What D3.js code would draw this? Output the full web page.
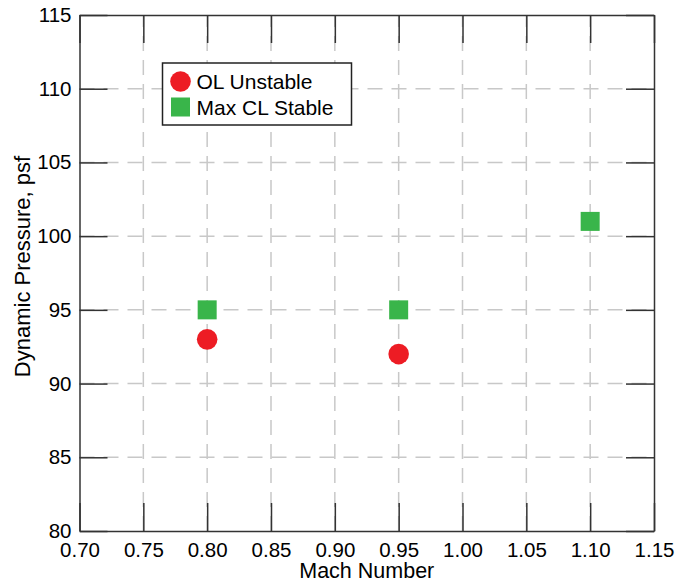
<!DOCTYPE html>
<html>
<head>
<meta charset="utf-8">
<script src="https://cdn.jsdelivr.net/npm/d3@7"></script>
<style>
  body { margin: 0; background: #fff; }
  text { font-family: "Liberation Sans", Arial, sans-serif; fill: #000; }
</style>
</head>
<body>
<svg id="chart" width="677" height="582"></svg>
<script>
//  data
const unstable_mach = [0.80, 0.95];
const unstable_q = [93, 92];
const stable_mach = [0.80, 0.95, 1.10];
const stable_q = [95, 95, 101];
const x_ticks = [0.70, 0.75, 0.80, 0.85, 0.90, 0.95, 1.00, 1.05, 1.10, 1.15];
const y_ticks = [80, 85, 90, 95, 100, 105, 110, 115];
const legend_labels = ["OL Unstable", "Max CL Stable"];

const margin = ({top: 15, right: 23, bottom: 51, left: 79.5});
const w = 677, h = 582;
const svg = d3.select("#chart");

const x = d3.scaleLinear().domain([0.70, 1.15]).range([margin.left, w - margin.right]);
const y = d3.scaleLinear().domain([80, 115]).range([h - margin.bottom, margin.top]);

//  grid
const grid = svg.append("g")
  .attr("stroke", "#c8c8c8")
  .attr("stroke-width", 1.5)
  .attr("stroke-dasharray", "15,9");

grid.selectAll(".gx").data(x_ticks.slice(1, -1)).join("line")
  .attr("x1", d => x(d)).attr("x2", d => x(d))
  .attr("y1", y(80)).attr("y2", y(115));

grid.selectAll(".gy").data(y_ticks.slice(1, -1)).join("line")
  .attr("y1", d => y(d)).attr("y2", d => y(d))
  .attr("x1", x(0.70)).attr("x2", x(1.15));

//  axes with inward ticks
const tick_len = 28;
const xAxis = g => g
  .attr("transform", `translate(0,${h - margin.bottom})`)
  .call(d3.axisBottom(x).tickValues(x_ticks).tickFormat(d3.format(".2f")).tickSizeInner(-tick_len).tickSizeOuter(0).tickPadding(11));

const yAxis = g => g
  .attr("transform", `translate(${margin.left},0)`)
  .call(d3.axisLeft(y).tickValues(y_ticks).tickSizeInner(-tick_len).tickSizeOuter(0).tickPadding(8));

const xTop = g => g
  .attr("transform", `translate(0,${margin.top})`)
  .call(d3.axisTop(x).tickValues(x_ticks).tickFormat("").tickSizeInner(-tick_len).tickSizeOuter(0));

const yRight = g => g
  .attr("transform", `translate(${w - margin.right},0)`)
  .call(d3.axisRight(y).tickValues(y_ticks).tickFormat("").tickSizeInner(-tick_len).tickSizeOuter(0));

[xAxis, yAxis, xTop, yRight].forEach(a => {
  const g = svg.append("g").style("font-size", "20.5px").call(a);
  g.select(".domain").attr("stroke", "#333").attr("stroke-width", 1.5);
  g.selectAll(".tick line").attr("stroke", "#333").attr("stroke-width", 1.5);
  g.selectAll(".tick text").attr("fill", "#000").style("font-family", "Liberation Sans, Arial, sans-serif");
});

//  axis titles
svg.append("text")
  .attr("x", (x(0.70) + x(1.15)) / 2).attr("y", 578)
  .attr("text-anchor", "middle").style("font-size", "21.5px")
  .text("Mach Number");

svg.append("text")
  .attr("transform", `translate(30,266.5) rotate(-90)`)
  .attr("text-anchor", "middle").style("font-size", "22px")
  .text("Dynamic Pressure, psf");

//  points
const stable = stable_mach.map((m, i) => ({m: m, q: stable_q[i]}));
const unstable = unstable_mach.map((m, i) => ({m: m, q: unstable_q[i]}));
const sq = 19;

svg.selectAll(".sq").data(stable).join("rect")
  .attr("x", d => x(d.m) - sq / 2).attr("y", d => y(d.q) - sq / 2)
  .attr("width", sq).attr("height", sq)
  .attr("fill", "#39b54a");

svg.selectAll(".ci").data(unstable).join("circle")
  .attr("cx", d => x(d.m)).attr("cy", d => y(d.q)).attr("r", 10.3)
  .attr("fill", "#ed1c24");

//  legend
const lg = svg.append("g");
lg.append("rect")
  .attr("x", 162.5).attr("y", 63).attr("width", 189).attr("height", 62)
  .attr("fill", "#fff").attr("stroke", "#222").attr("stroke-width", 1.5);
lg.append("circle").attr("cx", 180.5).attr("cy", 81.5).attr("r", 10.3).attr("fill", "#ed1c24");
lg.append("rect").attr("x", 171).attr("y", 97.5).attr("width", sq).attr("height", sq).attr("fill", "#39b54a");
lg.selectAll(".lt").data(legend_labels).join("text")
  .attr("x", 196.5).attr("y", (d, i) => 89 + i * 26)
  .style("font-size", "21px")
  .text(d => d);
</script>
</body>
</html>
